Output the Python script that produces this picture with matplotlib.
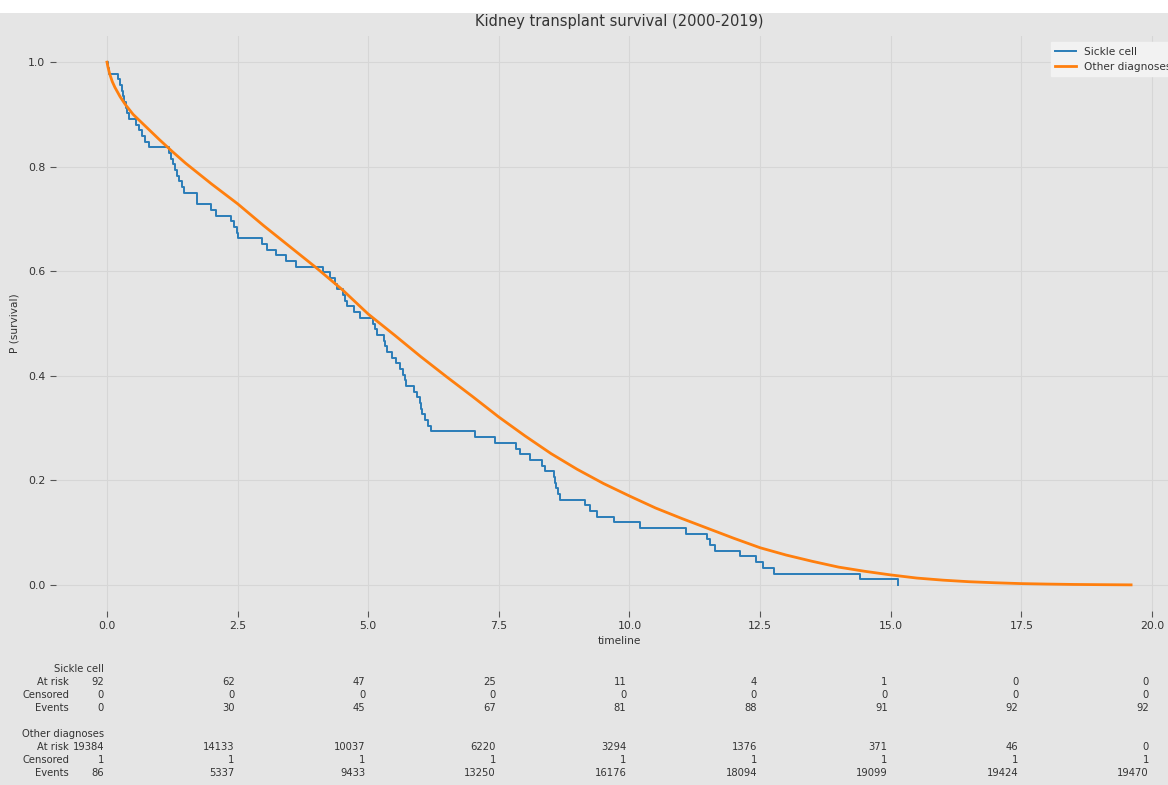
import matplotlib
matplotlib.use("Agg")
import matplotlib.pyplot as plt
import matplotlib.transforms as mtransforms
from matplotlib.patches import Rectangle
import numpy as np

# ── Data ─────────────────────────────────────────────────────────────────────

sickle_n = 92
# event times (years) of the sickle cell group, one entry per event
sickle_event_times = [
    0.02, 0.04,
    0.22, 0.25, 0.28, 0.30, 0.33, 0.36, 0.39, 0.42,
    0.56, 0.62, 0.67, 0.72, 0.80,
    1.18, 1.22, 1.26, 1.30, 1.34, 1.38, 1.43, 1.48,
    1.72, 1.73, 1.99, 2.08,
    2.37, 2.43, 2.48, 2.51,
    2.97, 3.06, 3.24, 3.43, 3.62,
    4.13, 4.27, 4.36, 4.40, 4.52, 4.56, 4.59, 4.72, 4.85,
    5.09, 5.12, 5.17, 5.31, 5.33, 5.36, 5.45, 5.54, 5.60, 5.66,
    5.70, 5.73, 5.88, 5.93, 5.99, 6.01, 6.03, 6.09, 6.15, 6.20,
    7.05, 7.42,
    7.83, 7.90, 8.10, 8.32, 8.38,
    8.56, 8.58, 8.60, 8.63, 8.67,
    9.14, 9.24, 9.37, 9.70,
    10.20, 11.09, 11.48, 11.54, 11.63, 12.11, 12.43, 12.55, 12.77,
    14.41, 15.13,
]

# other diagnoses survival curve (many patients -> looks smooth)
other_times = [0.0, 0.02, 0.05, 0.1, 0.15, 0.25, 0.35, 0.5, 0.75, 1.0, 1.25,
               1.5, 1.75, 2.0, 2.5, 3.0, 3.5, 4.0, 4.5, 5.0, 5.5, 6.0, 6.5,
               7.0, 7.5, 8.0, 8.5, 9.0, 9.5, 10.0, 10.5, 11.0, 11.5, 12.0,
               12.5, 13.0, 13.5, 14.0, 14.5, 15.0, 15.5, 16.0, 16.5, 17.0,
               17.5, 18.0, 18.5, 19.0, 19.6]
other_surv = [1.0, 0.990, 0.978, 0.963, 0.952, 0.934, 0.919, 0.900, 0.876,
              0.852, 0.829, 0.807, 0.787, 0.767, 0.729, 0.687, 0.647, 0.607,
              0.565, 0.518, 0.478, 0.437, 0.398, 0.360, 0.321, 0.285, 0.251,
              0.221, 0.194, 0.170, 0.147, 0.127, 0.108, 0.089, 0.071, 0.057,
              0.045, 0.034, 0.026, 0.019, 0.013, 0.009, 0.006, 0.004, 0.0024,
              0.0015, 0.0008, 0.0004, 0.0]

table_ticks = [0.0, 2.5, 5.0, 7.5, 10.0, 12.5, 15.0, 17.5, 20.0]
sickle_at_risk = [92, 62, 47, 25, 11, 4, 1, 0, 0]
sickle_censored = [0, 0, 0, 0, 0, 0, 0, 0, 0]
sickle_events = [0, 30, 45, 67, 81, 88, 91, 92, 92]
other_at_risk = [19384, 14133, 10037, 6220, 3294, 1376, 371, 46, 0]
other_censored = [1, 1, 1, 1, 1, 1, 1, 1, 1]
other_events = [86, 5337, 9433, 13250, 16176, 18094, 19099, 19424, 19470]

# ── Figure ───────────────────────────────────────────────────────────────────

BG = "#e5e5e5"
TXT = "#333333"
W, H = 1168, 785

fig = plt.figure(figsize=(W / 100, H / 100), dpi=100, facecolor=BG)
fig.patches.append(Rectangle((0, 1 - 13 / H), 1, 13 / H, transform=fig.transFigure,
                             facecolor="white", edgecolor="none", zorder=-1))

ax = fig.add_axes([55.8 / W, (H - 611) / H, 1126.5 / W, 575 / H])
ax.set_facecolor(BG)
for sp in ax.spines.values():
    sp.set_visible(False)
ax.grid(True, color="#d6d6d6", lw=0.8)
ax.set_axisbelow(True)

# Kaplan-Meier steps for sickle cell
ut, cnt = np.unique(sickle_event_times, return_counts=True)
km = 1 - np.cumsum(cnt) / sickle_n
ax.plot(np.r_[0, ut], np.r_[1.0, km], drawstyle="steps-post",
        color="#2a7db8", lw=1.4, label="Sickle cell")
ax.plot(other_times, other_surv, color="#ff7f0e", lw=2.0, label="Other diagnoses")

ax.margins(0.05)
ax.set_xticks(table_ticks)
ax.set_yticks([0.0, 0.2, 0.4, 0.6, 0.8, 1.0])
ax.tick_params(colors="#555555", labelcolor=TXT, labelsize=7.8, length=4, width=0.8,
               direction="out")
ax.set_title("Kidney transplant survival (2000-2019)", fontsize=10.5, color=TXT, pad=7)
ax.set_xlabel("timeline", fontsize=7.6, color=TXT, labelpad=3)
ax.set_ylabel("P (survival)", fontsize=7.6, color=TXT, labelpad=6)

leg = ax.legend(loc="upper right", fontsize=7.6, frameon=True, fancybox=False,
                borderaxespad=0.6)
leg.get_frame().set_facecolor("#f2f2f2")
leg.get_frame().set_edgecolor("#f2f2f2")
leg.get_frame().set_alpha(1)
for t in leg.get_texts():
    t.set_color(TXT)

# ── At-risk table under the axis ─────────────────────────────────────────────

blend = mtransforms.blended_transform_factory(ax.transData, fig.transFigure)
num_tr = mtransforms.offset_copy(blend, fig=fig, x=-3, y=0, units="dots")
lab_tr = mtransforms.offset_copy(blend, fig=fig, x=-38, y=0, units="dots")
FS = 7.2


def fy(px):
    return 1 - px / H


groups = [
    ("Sickle cell", 669, [("At risk", sickle_at_risk), ("Censored", sickle_censored),
                          ("Events", sickle_events)]),
    ("Other diagnoses", 734, [("At risk", other_at_risk), ("Censored", other_censored),
                              ("Events", other_events)]),
]
for name, y0, rows in groups:
    ax.text(table_ticks[0], fy(y0), name, transform=num_tr, ha="right", va="center",
            fontsize=FS, color=TXT)
    for i, (rname, vals) in enumerate(rows):
        yy = fy(y0 + 13 * (i + 1))
        ax.text(table_ticks[0], yy, rname, transform=lab_tr, ha="right", va="center",
                fontsize=FS, color=TXT)
        for x, v in zip(table_ticks, vals):
            ax.text(x, yy, str(v), transform=num_tr, ha="right", va="center",
                    fontsize=FS, color=TXT)

fig.savefig("out.png", dpi=100, facecolor=BG)
